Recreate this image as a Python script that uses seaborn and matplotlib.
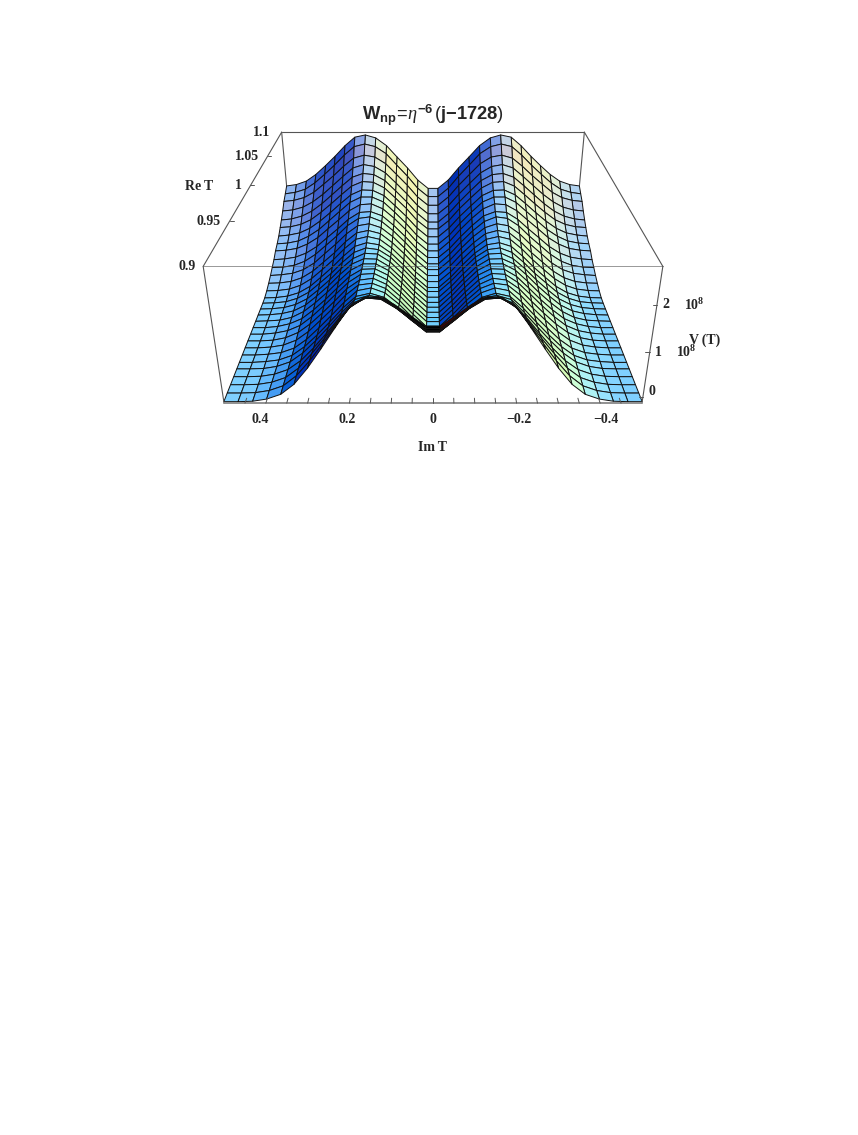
#!/usr/bin/env python3
"""Surface of V(T) for W_np, Mathematica style box and lighting."""

import matplotlib
matplotlib.use("Agg")
import matplotlib.pyplot as plt
import numpy as np
import seaborn as sns
from mpl_toolkits.mplot3d import proj3d

FIG_W, FIG_H = 858, 1135
ELEV = 26.3
LIGHT_ELEV = 45.0
LIGHT_SLOPE = 0.75
BOX = (1, 0.949, 0.37)
Z_MIN, Z_MAX = -0.145, 2.755

IM_MAJOR = [0.4, 0.2, 0.0, -0.2, -0.4]
IM_LABELS = ["0.4", "0.2", "0", "\u22120.2", "\u22120.4"]
IM_TICKS = [0.45, 0.4, 0.35, 0.3, 0.25, 0.2, 0.15, 0.1, 0.05, 0.0,
            -0.05, -0.1, -0.15, -0.2, -0.25, -0.3, -0.35, -0.4, -0.45]
RE_MAJOR = [1.1, 1.05, 1.0, 0.95, 0.9]
RE_LABELS = ["1.1", "1.05", "1", "0.95", "0.9"]
RE_SHIFT = [-3.5, 0, 0, 1, 4]
V_MAJOR = [0, 1, 2]
V_LABELS = ["0", "1", "2"]

# grid: half of Im T (surface is mirrored about 0), Re T from back to front
IM_HALF = [0.5, 0.466, 0.431, 0.397, 0.362, 0.328, 0.293, 0.259, 0.224, 0.19, 0.155, 0.121, 0.086, 0.052, 0.017]
RE_T = [1.1, 1.093, 1.086, 1.079, 1.072, 1.066, 1.059, 1.052, 1.045, 1.038, 1.031, 1.024, 1.017, 1.01, 1.003,
        0.997, 0.99, 0.983, 0.976, 0.969, 0.962, 0.955, 0.948, 0.941, 0.934, 0.928, 0.921, 0.914, 0.907, 0.9]

# V(T) in units of 10^8, one list per Re T row, read along the half Im T grid
V_R00 = [1.26, 1.30, 1.40, 1.59, 1.84, 2.10, 2.39, 2.62, 2.68, 2.60, 2.39, 2.08, 1.77, 1.43, 1.19]
V_R01 = [1.14, 1.18, 1.27, 1.45, 1.69, 1.94, 2.22, 2.45, 2.52, 2.45, 2.26, 1.95, 1.64, 1.30, 1.06]
V_R02 = [1.03, 1.06, 1.14, 1.29, 1.52, 1.75, 2.01, 2.23, 2.31, 2.26, 2.08, 1.79, 1.49, 1.16, 0.92]
V_R03 = [0.87, 0.90, 0.98, 1.13, 1.34, 1.58, 1.83, 2.06, 2.15, 2.10, 1.93, 1.65, 1.35, 1.03, 0.79]
V_R04 = [0.73, 0.76, 0.84, 0.98, 1.19, 1.43, 1.68, 1.91, 2.01, 1.98, 1.82, 1.54, 1.24, 0.92, 0.67]
V_R05 = [0.62, 0.64, 0.71, 0.84, 1.05, 1.28, 1.53, 1.76, 1.88, 1.86, 1.71, 1.44, 1.15, 0.82, 0.58]
V_R06 = [0.50, 0.53, 0.59, 0.72, 0.92, 1.15, 1.40, 1.63, 1.76, 1.75, 1.61, 1.34, 1.05, 0.73, 0.48]
V_R07 = [0.41, 0.43, 0.49, 0.62, 0.81, 1.05, 1.30, 1.54, 1.68, 1.68, 1.55, 1.28, 0.98, 0.65, 0.40]
V_R08 = [0.34, 0.36, 0.41, 0.53, 0.71, 0.95, 1.19, 1.43, 1.59, 1.61, 1.48, 1.23, 0.93, 0.60, 0.34]
V_R09 = [0.23, 0.25, 0.30, 0.41, 0.59, 0.83, 1.07, 1.32, 1.50, 1.52, 1.41, 1.16, 0.86, 0.54, 0.29]
V_R10 = [0.15, 0.16, 0.21, 0.32, 0.51, 0.75, 1.00, 1.27, 1.46, 1.50, 1.38, 1.14, 0.84, 0.52, 0.25]
V_R11 = [0.07, 0.09, 0.13, 0.23, 0.41, 0.66, 0.91, 1.18, 1.39, 1.44, 1.34, 1.11, 0.81, 0.49, 0.23]
V_R12 = [0.00, 0.01, 0.05, 0.15, 0.33, 0.57, 0.82, 1.10, 1.33, 1.39, 1.31, 1.08, 0.79, 0.47, 0.21]
V_R13 = [-0.06, -0.05, -0.01, 0.09, 0.27, 0.51, 0.77, 1.05, 1.29, 1.36, 1.29, 1.07, 0.77, 0.45, 0.19]
V_R14 = [-0.10, -0.09, -0.05, 0.04, 0.21, 0.45, 0.71, 0.99, 1.24, 1.33, 1.28, 1.07, 0.77, 0.45, 0.18]
V_R15 = [-0.11, -0.10, -0.07, 0.02, 0.18, 0.42, 0.67, 0.95, 1.20, 1.31, 1.27, 1.08, 0.78, 0.47, 0.20]
V_R16 = [-0.11, -0.10, -0.07, 0.01, 0.16, 0.39, 0.65, 0.93, 1.18, 1.31, 1.29, 1.10, 0.80, 0.48, 0.20]
V_R17 = [-0.11, -0.10, -0.07, 0.00, 0.15, 0.38, 0.64, 0.92, 1.18, 1.31, 1.30, 1.12, 0.82, 0.50, 0.22]
V_R18 = [-0.11, -0.10, -0.08, -0.01, 0.14, 0.36, 0.62, 0.90, 1.17, 1.32, 1.32, 1.16, 0.86, 0.54, 0.25]
V_R19 = [-0.11, -0.11, -0.08, -0.01, 0.12, 0.34, 0.60, 0.88, 1.16, 1.33, 1.34, 1.19, 0.89, 0.57, 0.28]
V_R20 = [-0.11, -0.11, -0.08, -0.02, 0.11, 0.33, 0.60, 0.88, 1.16, 1.35, 1.37, 1.22, 0.93, 0.61, 0.31]
V_R21 = [-0.11, -0.11, -0.09, -0.03, 0.10, 0.31, 0.58, 0.86, 1.16, 1.36, 1.40, 1.26, 0.98, 0.66, 0.37]
V_R22 = [-0.11, -0.11, -0.09, -0.04, 0.08, 0.29, 0.57, 0.85, 1.16, 1.39, 1.43, 1.31, 1.03, 0.71, 0.41]
V_R23 = [-0.11, -0.11, -0.09, -0.05, 0.06, 0.27, 0.55, 0.84, 1.15, 1.41, 1.47, 1.36, 1.10, 0.79, 0.50]
V_R24 = [-0.11, -0.11, -0.09, -0.05, 0.06, 0.27, 0.55, 0.85, 1.17, 1.43, 1.50, 1.41, 1.17, 0.89, 0.62]
V_R25 = [-0.11, -0.11, -0.10, -0.05, 0.06, 0.27, 0.56, 0.87, 1.20, 1.49, 1.58, 1.52, 1.30, 1.03, 0.77]
V_R26 = [-0.11, -0.11, -0.10, -0.05, 0.06, 0.27, 0.57, 0.90, 1.26, 1.57, 1.70, 1.66, 1.45, 1.19, 0.94]
V_R27 = [-0.11, -0.11, -0.10, -0.05, 0.06, 0.28, 0.61, 0.96, 1.34, 1.68, 1.83, 1.80, 1.61, 1.37, 1.13]
V_R28 = [-0.11, -0.11, -0.10, -0.05, 0.06, 0.29, 0.63, 1.01, 1.42, 1.79, 1.98, 1.98, 1.80, 1.57, 1.34]
V_R29 = [-0.11, -0.11, -0.10, -0.05, 0.06, 0.29, 0.65, 1.06, 1.50, 1.91, 2.14, 2.16, 2.00, 1.78, 1.56]

V_ROWS = [V_R00, V_R01, V_R02, V_R03, V_R04, V_R05, V_R06, V_R07, V_R08, V_R09,
          V_R10, V_R11, V_R12, V_R13, V_R14, V_R15, V_R16, V_R17, V_R18, V_R19,
          V_R20, V_R21, V_R22, V_R23, V_R24, V_R25, V_R26, V_R27, V_R28, V_R29]


def cell_colors(im_t, re_t, v):
    # default Mathematica lights: red, green, blue in display coordinates
    e = np.radians(LIGHT_ELEV)
    up = np.array([0, np.sin(e), np.cos(e)])
    tow = np.array([0, -np.cos(e), np.sin(e)])
    xx, yy = np.meshgrid(-im_t, (re_t - re_t.min()) / (re_t.max() - re_t.min()))
    zz = (v - Z_MIN) / (Z_MAX - Z_MIN) * BOX[2]
    d1 = np.stack([xx[1:, 1:] - xx[:-1, :-1], yy[1:, 1:] - yy[:-1, :-1], zz[1:, 1:] - zz[:-1, :-1]], -1)
    d2 = np.stack([xx[1:, :-1] - xx[:-1, 1:], yy[1:, :-1] - yy[:-1, 1:], zz[1:, :-1] - zz[:-1, 1:]], -1)
    n = np.cross(d2, d1)
    n = n / np.linalg.norm(n, axis=-1, keepdims=True)
    n = np.where(n[..., 2:] < 0, -n, n)
    # cells seen from below are lit on the side we see
    ev = np.radians(ELEV)
    flip = n @ np.array([0, -np.cos(ev), np.sin(ev)]) < 0
    soft = n * [LIGHT_SLOPE, LIGHT_SLOPE, 1]
    soft = soft / np.linalg.norm(soft, axis=-1, keepdims=True)
    soft = np.where(flip[..., None], -n, soft)
    nx, ny, nz = soft[..., 0], soft @ up, soft @ tow
    red = np.clip((nx + nz) / np.sqrt(2), 0, 1)
    green = np.clip((nx + ny + nz) / np.sqrt(3), 0, 1)
    blue = np.clip((ny + nz) / np.sqrt(2), 0, 1)
    return np.dstack([red, green, blue, np.ones_like(red)])


def label_3d(fig, ax, x, y, z, text, shift=0, **kwargs):
    # plain figure text placed where the 3D point lands on the canvas
    px, py, _ = proj3d.proj_transform(x, y, z, ax.get_proj())
    px, py = ax.transData.transform((px, py))
    fig.text((px + shift) / FIG_W, py / FIG_H, text, va="center", fontsize=10, **kwargs)


def main():
    sns.set_theme(style="white")
    plt.rcParams["font.family"] = ["Liberation Serif", "DejaVu Serif"]
    plt.rcParams["font.weight"] = "bold"
    plt.rcParams["mathtext.fontset"] = "custom"
    plt.rcParams["mathtext.bf"] = "Liberation Sans:bold"
    plt.rcParams["mathtext.it"] = "Liberation Serif:italic:normal"
    plt.rcParams["mathtext.rm"] = "Liberation Sans:normal"
    plt.rcParams["mathtext.sf"] = "Liberation Serif:bold"

    half = np.array(V_ROWS)
    surface = np.hstack([half, half[:, ::-1]])[::-1]
    im_t = np.array(IM_HALF + [-x for x in IM_HALF[::-1]])
    re_t = np.array(RE_T[::-1])
    xx, yy = np.meshgrid(im_t, re_t)

    fig = plt.figure(figsize=(FIG_W / 100, FIG_H / 100), dpi=100)
    size = 486.5
    left = 433 - 0.5135 * size
    bottom = (FIG_H - 246) - 0.5135 * size
    ax = fig.add_axes([left / FIG_W, bottom / FIG_H, size / FIG_W, size / FIG_H], projection="3d")
    ax.set_proj_type("persp", focal_length=0.2868)
    ax.view_init(elev=ELEV, azim=-90)
    ax.set_box_aspect(BOX)
    ax.computed_zorder = False
    ax.set_xlim(0.5, -0.5)
    ax.set_ylim(0.9, 1.1)
    ax.set_zlim(Z_MIN, Z_MAX)
    ax.set_axis_off()
    ax.apply_aspect()

    box = dict(color="#555555", lw=0.8)
    ax.plot([0.5, 0.5], [1.1, 1.1], [Z_MAX, surface[-1, 0]], zorder=1, **box)
    ax.plot([-0.5, -0.5], [1.1, 1.1], [Z_MAX, surface[-1, 0]], zorder=1, **box)
    ax.plot([0.5, -0.5], [1.1, 1.1], [Z_MAX, Z_MAX], zorder=1, **box)
    ax.plot_surface(xx, yy, surface, facecolors=cell_colors(im_t, re_t, surface), rstride=1, cstride=1,
                    shade=False, edgecolor="#111111", linewidth=0.7, zorder=2, antialiased=True)
    ax.plot([0.5, 0.5], [0.9, 1.1], [Z_MAX, Z_MAX], zorder=3, **box)
    ax.plot([-0.5, -0.5], [0.9, 1.1], [Z_MAX, Z_MAX], zorder=3, **box)
    ax.plot([0.5, -0.5], [0.9, 0.9], [Z_MAX, Z_MAX], zorder=3, color="#555555", lw=0.6, alpha=0.7)
    ax.plot([0.5, 0.5], [0.9, 0.9], [Z_MIN, Z_MAX], zorder=3, **box)
    ax.plot([-0.5, -0.5], [0.9, 0.9], [Z_MIN, Z_MAX], zorder=3, **box)
    ax.plot([0.5, -0.5], [0.9, 0.9], [Z_MIN, Z_MIN], zorder=3, color="#888888", lw=1.3)

    tick = dict(color="#555555", lw=0.7, zorder=3)
    for im in IM_TICKS:
        ax.plot([im, im], [0.9, 0.904], [Z_MIN, Z_MIN], **tick)
    for re in RE_MAJOR[1:-1]:
        ax.plot([0.5, 0.49], [re, re], [Z_MAX, Z_MAX], **tick)
    for v in V_MAJOR:
        ax.plot([-0.5, -0.49], [0.9, 0.9], [v, v], **tick)

    ax.set_xlim(0.5, -0.5)
    ax.set_ylim(0.9, 1.1)
    ax.set_zlim(Z_MIN, Z_MAX)

    for im, text in zip(IM_MAJOR, IM_LABELS):
        label_3d(fig, ax, im, 0.887, Z_MIN, text, ha="center")
    for re, text, shift in zip(RE_MAJOR, RE_LABELS, RE_SHIFT):
        label_3d(fig, ax, 0.525, re, Z_MAX, text, shift=shift, ha="right")
    for v, text in zip(V_MAJOR, V_LABELS):
        height = v + 0.12 if v == 0 else v
        label_3d(fig, ax, -0.52, 0.9, height, text, ha="center")
        if v > 0:
            label_3d(fig, ax, -0.56, 0.9, v, r"$\mathsf{10^{8}}$", ha="left")

    fig.text(433 / FIG_W, 1 - 447.5 / FIG_H, "Im\u2009T", ha="center", va="center", fontsize=10)
    fig.text(199 / FIG_W, 1 - 186 / FIG_H, "Re\u2009T", ha="center", va="center", fontsize=10)
    fig.text(689 / FIG_W, 1 - 340 / FIG_H, "V\u2009(T)", ha="left", va="center", fontsize=10)
    fig.text(433 / FIG_W, 1 - 115 / FIG_H,
             r"$\mathbf{W_{np}}\!=\!\eta^{\mathbf{-6}}\,(\mathbf{j{-}1728})$",
             ha="center", va="center", fontsize=13.2)

    fig.savefig("out.png", dpi=100)


if __name__ == "__main__":
    main()
